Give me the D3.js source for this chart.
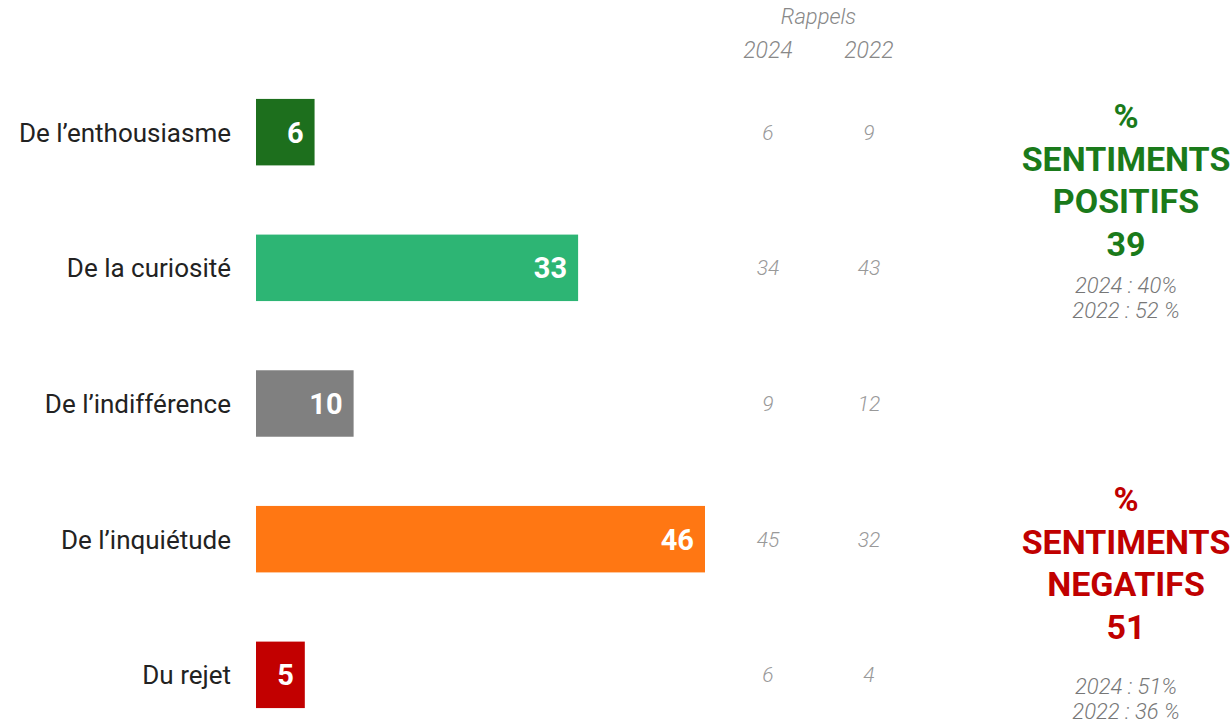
<!DOCTYPE html>
<html><head><meta charset="utf-8">
<script src="https://cdn.jsdelivr.net/npm/d3@7"></script>
<style>body{margin:0;background:#fff}svg{display:block}</style>
</head><body><svg id="c" width="1232" height="724"></svg>
<script>
const categories = ["De l’enthousiasme","De la curiosité","De l’indifférence","De l’inquiétude","Du rejet"];
const values = [6,33,10,46,5];
const colors = ["#1d6f1d","#2db574","#808080","#ff7713","#c20000"];
const rappel2024 = [6,34,9,45,6];
const rappel2022 = [9,43,12,32,4];
const rappelYears = ["2024","2022"];
const positifLines = ["%","SENTIMENTS","POSITIFS","39"];
const positifSub = ["2024 : 40%","2022 : 52 %"];
const negatifLines = ["%","SENTIMENTS","NEGATIFS","51"];
const negatifSub = ["2024 : 51%","2022 : 36 %"];

const svg = d3.select("#c");
const font = "Roboto, 'Noto Sans', sans-serif";
const x = d3.scaleLinear().domain([0,46]).range([256,705]);
const y = d3.scaleBand().domain(categories).range([65,742]).paddingInner(0.51).paddingOuter(0.25);

// bars
svg.selectAll("rect.bar").data(values).join("rect")
  .attr("x", x(0)).attr("y",(d,i)=>y(categories[i]))
  .attr("width", d=>x(d)-x(0)).attr("height", y.bandwidth())
  .attr("fill",(d,i)=>colors[i]);

svg.selectAll("text.val").data(values).join("text")
  .attr("x", d=>x(d)-11).attr("y",(d,i)=>y(categories[i])+y.bandwidth()/2)
  .attr("dy","0.36em").attr("text-anchor","end")
  .attr("font-family",font).attr("font-weight","bold").attr("font-size",29)
  .attr("fill","#fff").text(d=>d);

svg.selectAll("text.cat").data(categories).join("text")
  .attr("x",231).attr("y",d=>y(d)+y.bandwidth()/2).attr("dy","0.36em")
  .attr("text-anchor","end").attr("font-family",font).attr("font-size",26)
  .attr("fill","#222").text(d=>d);

// rappels
const rx = d3.scalePoint().domain(rappelYears).range([768,869]);
svg.append("text").attr("x",(rx("2024")+rx("2022"))/2).attr("y",24).attr("text-anchor","middle")
  .attr("font-family",font).attr("font-style","italic").attr("font-weight",300).attr("font-size",22).attr("fill","#888").text("Rappels");
svg.selectAll("text.yr").data(rappelYears).join("text")
  .attr("x",d=>rx(d)).attr("y",58).attr("text-anchor","middle")
  .attr("font-family",font).attr("font-style","italic").attr("font-weight",300).attr("font-size",23).attr("fill","#888").text(d=>d);
[rappel2024, rappel2022].forEach((arr,k)=>{
  svg.selectAll("text.r"+k).data(arr).join("text")
    .attr("x",rx(rappelYears[k])).attr("y",(d,i)=>y(categories[i])+y.bandwidth()/2).attr("dy","0.36em")
    .attr("text-anchor","middle").attr("font-family",font).attr("font-style","italic").attr("font-weight",300)
    .attr("font-size",21).attr("fill","#999").text(d=>d);
});

// side blocks
function block(lines, subs, color, y0, subY0){
  svg.selectAll(null).data(lines).join("text")
    .attr("x",1126).attr("y",(d,i)=>y0+i*42.5).attr("text-anchor","middle")
    .attr("font-family",font).attr("font-weight","bold").attr("font-size",34)
    .attr("fill",color).text(d=>d);
  svg.selectAll(null).data(subs).join("text")
    .attr("x",1126).attr("y",(d,i)=>subY0+i*25).attr("text-anchor","middle")
    .attr("font-family",font).attr("font-style","italic").attr("font-weight",300).attr("font-size",22)
    .attr("fill","#777").text(d=>d);
}
block(positifLines, positifSub, "#1a7a1a", 128, 293);
block(negatifLines, negatifSub, "#c00000", 511, 694);
</script></body></html>
